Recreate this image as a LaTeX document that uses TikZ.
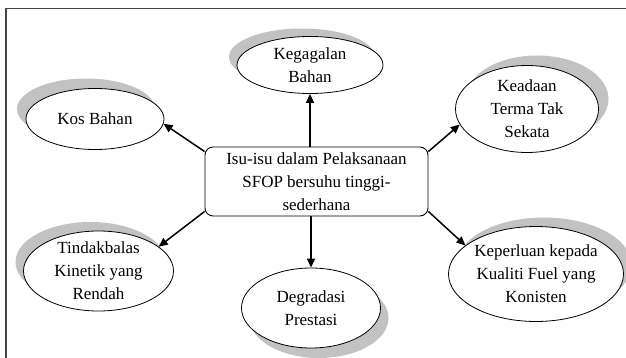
\documentclass[tikz,border=0pt]{standalone}
\usepackage{fontspec}
\setmainfont{Liberation Serif}
\usetikzlibrary{shapes.geometric,shadows,arrows.meta}
\definecolor{shade}{RGB}{194,194,194}
\definecolor{frameclr}{RGB}{70,70,70}
\begin{document}
\begin{tikzpicture}[x=1pt,y=-1pt,
  txt/.style={font=\fontsize{17}{23}\selectfont, align=center, text=black},
  bubble/.style={txt, ellipse, draw=black, line width=0.8pt, fill=white, inner xsep=-20pt, inner ysep=-20pt},
  sh/.style 2 args={drop shadow={shadow xshift=#1, shadow yshift=#2, fill=shade, opacity=1}},
  hub/.style={txt, rectangle, rounded corners=8pt, draw=black, line width=0.9pt, fill=white, minimum width=223pt, minimum height=69pt, inner sep=0pt},
  arr/.style={line width=1.5pt, -{Triangle[length=9pt,width=8pt]}},
  framestyle/.style={draw=frameclr, line width=1.5pt}]
\useasboundingbox (0,0) rectangle (626,358);
% frame (cropped: only top and left edges visible)
\coordinate (fbl) at (6,360);
\coordinate (ftl) at (6,8.5);
\coordinate (ftr) at (628,8.5);
\draw[framestyle] (fbl) -- (ftl) -- (ftr);
% central box
\node[hub] (hub) at (316.5,181.5) {Isu-isu dalam Pelaksanaan\\SFOP bersuhu tinggi-\\sederhana};
% surrounding ellipses
\node[bubble, sh={-8pt}{8pt}, minimum width=146pt, minimum height=57pt] (keg) at (310,65) {Kegagalan\\Bahan};
\node[bubble, sh={-9pt}{10pt}, minimum width=138pt, minimum height=61pt] (kos) at (95,119) {Kos Bahan};
\node[bubble, sh={10pt}{10pt}, minimum width=143pt, minimum height=87pt] (kea) at (527,109) {Keadaan\\Terma Tak\\Sekata};
\node[bubble, sh={-8pt}{9pt}, minimum width=150pt, minimum height=80pt] (tin) at (98.5,271) {Tindakbalas\\Kinetik yang\\Rendah};
\node[bubble, sh={8pt}{-10pt}, minimum width=139pt, minimum height=80pt] (deg) at (311,308) {Degradasi\\Prestasi};
\node[bubble, sh={8pt}{9pt}, minimum width=175pt, minimum height=95pt] (kep) at (536,274) {Keperluan kepada\\Kualiti Fuel yang\\Konisten};
% connectors
\draw[arr] (keg.south |- hub.north) -- (keg.south);
\draw[arr] (deg.north |- hub.south) -- (deg.north);
\draw[arr] (hub.165) -- (kos.-4);
\draw[arr] (hub.15) -- (kea.193);
\draw[arr] (hub.195) -- (tin.22);
\draw[arr] (hub.-15) -- (kep.158);
\end{tikzpicture}
\end{document}
